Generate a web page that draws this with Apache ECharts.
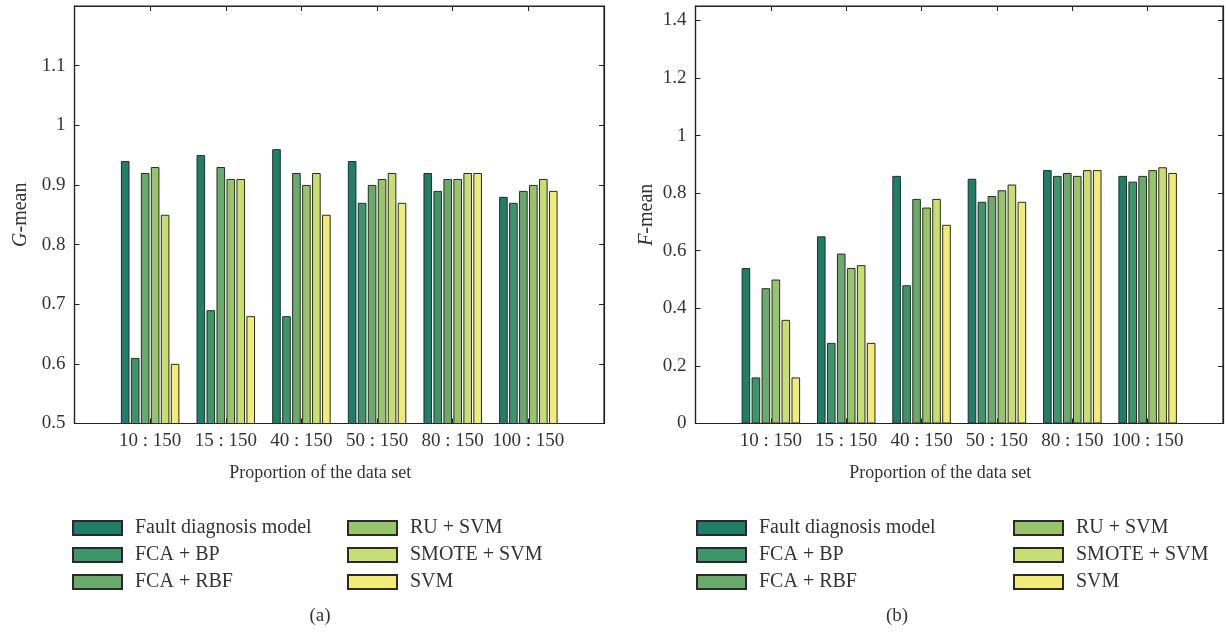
<!DOCTYPE html>
<html>
<head>
<meta charset="utf-8">
<script src="https://cdn.jsdelivr.net/npm/echarts@6/dist/echarts.min.js"></script>
<style>
html,body{margin:0;padding:0;background:#fff;}
#chart{width:1226px;height:633px;}
</style>
</head>
<body>
<div id="chart"></div>
<script>
var categories = ['10 : 150', '15 : 150', '40 : 150', '50 : 150', '80 : 150', '100 : 150'];
var seriesNames = ['Fault diagnosis model', 'FCA + BP', 'FCA + RBF', 'RU + SVM', 'SMOTE + SVM', 'SVM'];
var colors = ['#1f7f66', '#3d9669', '#6aab6b', '#98c46a', '#c9de70', '#f1eb77'];

// G-mean (panel a), one array per method, in category order
var gFault = [0.94, 0.95, 0.96, 0.94, 0.92, 0.88];
var gFcaBp = [0.61, 0.69, 0.68, 0.87, 0.89, 0.87];
var gFcaRbf = [0.92, 0.93, 0.92, 0.90, 0.91, 0.89];
var gRuSvm = [0.93, 0.91, 0.90, 0.91, 0.91, 0.90];
var gSmoteSvm = [0.85, 0.91, 0.92, 0.92, 0.92, 0.91];
var gSvm = [0.60, 0.68, 0.85, 0.87, 0.92, 0.89];

// F-mean (panel b)
var fFault = [0.54, 0.65, 0.86, 0.85, 0.88, 0.86];
var fFcaBp = [0.16, 0.28, 0.48, 0.77, 0.86, 0.84];
var fFcaRbf = [0.47, 0.59, 0.78, 0.79, 0.87, 0.86];
var fRuSvm = [0.50, 0.54, 0.75, 0.81, 0.86, 0.88];
var fSmoteSvm = [0.36, 0.55, 0.78, 0.83, 0.88, 0.89];
var fSvm = [0.16, 0.28, 0.69, 0.77, 0.88, 0.87];

var gData = [gFault, gFcaBp, gFcaRbf, gRuSvm, gSmoteSvm, gSvm];
var fData = [fFault, fFcaBp, fFcaRbf, fRuSvm, fSmoteSvm, fSvm];

var FONT = '"Liberation Serif", "DejaVu Serif", serif';
var TXT = '#333';
var LINE = '#222';

// padded category list (empty slot on each side, as in the original figure)
var paddedCats = [''].concat(categories).concat(['']);
function pad(arr) { return [null].concat(arr).concat([null]); }

var grids = [
  {left: 74.5, top: 6, width: 529.5, height: 417.5, show: true, borderColor: LINE, borderWidth: 1.2, backgroundColor: 'transparent'},
  {left: 695.5, top: 6, width: 528, height: 417.5, show: true, borderColor: LINE, borderWidth: 1.2, backgroundColor: 'transparent'}
];

function xAxes(gi, name) {
  return [
    {
      type: 'category', gridIndex: gi, data: paddedCats, boundaryGap: false, position: 'bottom',
      axisLine: {show: true, onZero: false, lineStyle: {color: LINE, width: 1.2}},
      axisTick: {show: true, inside: true, length: 5, lineStyle: {color: LINE}},
      axisLabel: {color: TXT, fontFamily: FONT, fontSize: 19, margin: 8, interval: 0},
      splitLine: {show: false},
      name: name, nameLocation: 'middle', nameGap: 41,
      nameTextStyle: {color: TXT, fontFamily: FONT, fontSize: 18, padding: [0, 38, 0, 0]}
    },
    {
      type: 'category', gridIndex: gi, data: paddedCats, boundaryGap: false, position: 'top',
      axisLine: {show: true, onZero: false, lineStyle: {color: LINE, width: 1.2}},
      axisTick: {show: true, inside: true, length: 5, lineStyle: {color: LINE}},
      axisLabel: {show: false}, splitLine: {show: false}
    }
  ];
}

function yAxes(gi, min, max, interval, nameRich, nameGap) {
  return [
    {
      type: 'value', gridIndex: gi, min: min, max: max, interval: interval, position: 'left',
      axisLine: {show: true, onZero: false, lineStyle: {color: LINE, width: 1.2}},
      axisTick: {show: true, inside: true, length: 5, lineStyle: {color: LINE}},
      axisLabel: {color: TXT, fontFamily: FONT, fontSize: 19, margin: 9, showMaxLabel: false},
      splitLine: {show: false},
      name: nameRich, nameLocation: 'middle', nameGap: nameGap, nameRotate: 90,
      nameTextStyle: {color: TXT, fontFamily: FONT, fontSize: 20,
        rich: {i: {fontStyle: 'italic', fontFamily: FONT, fontSize: 20, color: TXT}}}
    },
    {
      type: 'value', gridIndex: gi, min: min, max: max, interval: interval, position: 'right',
      axisLine: {show: true, onZero: false, lineStyle: {color: LINE, width: 1.2}},
      axisTick: {show: true, inside: true, length: 5, lineStyle: {color: LINE}},
      axisLabel: {show: false}, splitLine: {show: false}
    }
  ];
}

var series = [];
[gData, fData].forEach(function (dataSet, gi) {
  dataSet.forEach(function (vals, si) {
    series.push({
      type: 'bar', name: seriesNames[si],
      xAxisIndex: gi * 2, yAxisIndex: gi * 2,
      data: pad(vals),
      barWidth: 8.6, barGap: '16%',
      itemStyle: {color: colors[si], borderColor: '#2a2a2a', borderWidth: 1},
      emphasis: {disabled: true},
      silent: true
    });
  });
});

function legend(left, names) {
  return {
    left: left, top: 513, orient: 'vertical',
    itemWidth: 49, itemHeight: 14, itemGap: 7,
    icon: 'rect',
    selectedMode: false,
    data: names,
    textStyle: {color: TXT, fontFamily: FONT, fontSize: 20, padding: [0, 0, 0, 8]}
  };
}

var option = {
  animation: false,
  backgroundColor: '#fff',
  color: colors,
  grid: grids,
  xAxis: xAxes(0, 'Proportion of the data set').concat(xAxes(1, 'Proportion of the data set')),
  yAxis: yAxes(0, 0.5, 1.2, 0.1, '{i|G}-mean', 44).concat(yAxes(1, 0, 1.45, 0.2, '{i|F}-mean', 39)),
  legend: [
    legend(67, seriesNames.slice(0, 3)),
    legend(342, seriesNames.slice(3, 6)),
    legend(691, seriesNames.slice(0, 3)),
    legend(1008, seriesNames.slice(3, 6))
  ],
  graphic: [
    {type: 'text', x: 320, y: 616, style: {text: '(a)', fill: TXT, font: '19px ' + FONT, textAlign: 'center', textVerticalAlign: 'middle'}},
    {type: 'text', x: 897, y: 616, style: {text: '(b)', fill: TXT, font: '19px ' + FONT, textAlign: 'center', textVerticalAlign: 'middle'}}
  ],
  series: series
};

var chart = echarts.init(document.getElementById('chart'), null, {renderer: 'canvas'});
chart.setOption(option);
</script>
</body>
</html>
